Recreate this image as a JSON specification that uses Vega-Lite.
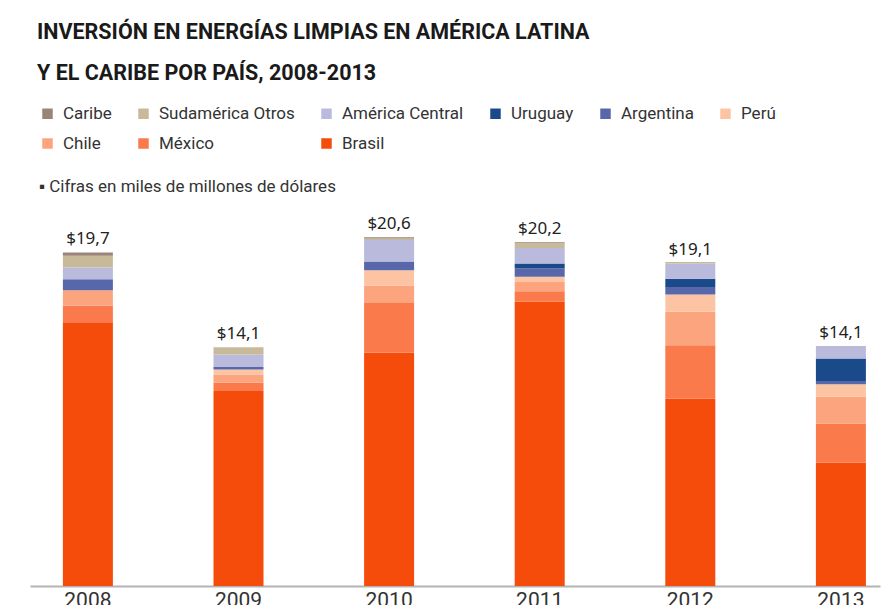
{
  "$schema": "https://vega.github.io/schema/vega-lite/v6.json",
  "autosize": {"type": "none"},
  "width": 850,
  "height": 381,
  "padding": {"left": 30, "top": 205, "right": 6, "bottom": 19},
  "background": "white",
  "title": {
    "text": ["INVERSIÓN EN ENERGÍAS LIMPIAS EN AMÉRICA LATINA", "Y EL CARIBE POR PAÍS, 2008-2013"],
    "anchor": "start",
    "frame": "group",
    "dx": 7,
    "font": "Roboto",
    "fontWeight": "bold",
    "fontSize": 21.5,
    "lineHeight": 41,
    "color": "#1a1a1a",
    "offset": 21
  },
  "config": {
    "view": {"stroke": null},
    "legend": {
      "orient": "none",
      "legendX": 9,
      "legendY": -100,
      "columns": 6,
      "direction": "horizontal",
      "symbolType": "square",
      "symbolSize": 110,
      "symbolStrokeWidth": 0,
      "labelFont": "Roboto",
      "labelFontSize": 17,
      "labelColor": "#333333",
      "labelOffset": 7,
      "columnPadding": 23,
      "rowPadding": 12,
      "titleOrient": "bottom",
      "titleFont": "Roboto",
      "titleFontSize": 17,
      "titleFontWeight": "normal",
      "titleColor": "#333333",
      "titlePadding": 27,
      "titleLimit": 600
    }
  },
  "layer": [
    {
      "data": {
        "values": [
          {"anio": "2008", "serie": "Brasil", "valor": 15.57, "orden": 1},
          {"anio": "2008", "serie": "México", "valor": 0.98, "orden": 2},
          {"anio": "2008", "serie": "Chile", "valor": 0.92, "orden": 3},
          {"anio": "2008", "serie": "Argentina", "valor": 0.65, "orden": 5},
          {"anio": "2008", "serie": "América Central", "valor": 0.69, "orden": 7},
          {"anio": "2008", "serie": "Sudamérica Otros", "valor": 0.69, "orden": 8},
          {"anio": "2008", "serie": "Caribe", "valor": 0.2, "orden": 9},
          {"anio": "2009", "serie": "Brasil", "valor": 11.51, "orden": 1},
          {"anio": "2009", "serie": "México", "valor": 0.49, "orden": 2},
          {"anio": "2009", "serie": "Chile", "valor": 0.49, "orden": 3},
          {"anio": "2009", "serie": "Perú", "valor": 0.3, "orden": 4},
          {"anio": "2009", "serie": "Argentina", "valor": 0.15, "orden": 5},
          {"anio": "2009", "serie": "América Central", "valor": 0.73, "orden": 7},
          {"anio": "2009", "serie": "Sudamérica Otros", "valor": 0.43, "orden": 8},
          {"anio": "2010", "serie": "Brasil", "valor": 13.78, "orden": 1},
          {"anio": "2010", "serie": "México", "valor": 2.93, "orden": 2},
          {"anio": "2010", "serie": "Chile", "valor": 1.03, "orden": 3},
          {"anio": "2010", "serie": "Perú", "valor": 0.91, "orden": 4},
          {"anio": "2010", "serie": "Argentina", "valor": 0.52, "orden": 5},
          {"anio": "2010", "serie": "América Central", "valor": 1.27, "orden": 7},
          {"anio": "2010", "serie": "Sudamérica Otros", "valor": 0.08, "orden": 8},
          {"anio": "2010", "serie": "Caribe", "valor": 0.08, "orden": 9},
          {"anio": "2011", "serie": "Brasil", "valor": 16.8, "orden": 1},
          {"anio": "2011", "serie": "México", "valor": 0.6, "orden": 2},
          {"anio": "2011", "serie": "Chile", "valor": 0.55, "orden": 3},
          {"anio": "2011", "serie": "Perú", "valor": 0.32, "orden": 4},
          {"anio": "2011", "serie": "Argentina", "valor": 0.5, "orden": 5},
          {"anio": "2011", "serie": "Uruguay", "valor": 0.27, "orden": 6},
          {"anio": "2011", "serie": "América Central", "valor": 0.92, "orden": 7},
          {"anio": "2011", "serie": "Sudamérica Otros", "valor": 0.29, "orden": 8},
          {"anio": "2011", "serie": "Caribe", "valor": 0.05, "orden": 9},
          {"anio": "2012", "serie": "Brasil", "valor": 11.07, "orden": 1},
          {"anio": "2012", "serie": "México", "valor": 3.15, "orden": 2},
          {"anio": "2012", "serie": "Chile", "valor": 1.97, "orden": 3},
          {"anio": "2012", "serie": "Perú", "valor": 1.02, "orden": 4},
          {"anio": "2012", "serie": "Argentina", "valor": 0.45, "orden": 5},
          {"anio": "2012", "serie": "Uruguay", "valor": 0.49, "orden": 6},
          {"anio": "2012", "serie": "América Central", "valor": 0.89, "orden": 7},
          {"anio": "2012", "serie": "Sudamérica Otros", "valor": 0.1, "orden": 8},
          {"anio": "2013", "serie": "Brasil", "valor": 7.3, "orden": 1},
          {"anio": "2013", "serie": "México", "valor": 2.3, "orden": 2},
          {"anio": "2013", "serie": "Chile", "valor": 1.57, "orden": 3},
          {"anio": "2013", "serie": "Perú", "valor": 0.75, "orden": 4},
          {"anio": "2013", "serie": "Argentina", "valor": 0.14, "orden": 5},
          {"anio": "2013", "serie": "Uruguay", "valor": 1.38, "orden": 6},
          {"anio": "2013", "serie": "América Central", "valor": 0.73, "orden": 7}
        ]
      },
      "mark": {"type": "bar"},
      "encoding": {
        "x": {
          "field": "anio",
          "type": "nominal",
          "scale": {"paddingInner": 0.668, "paddingOuter": 0.156, "align": 0.7},
          "axis": {
            "title": null,
            "labelAngle": 0,
            "ticks": false,
            "domainColor": "#b3b3b3",
            "domainWidth": 2,
            "labelFont": "Roboto",
            "labelFontSize": 21,
            "labelColor": "#333333",
            "labelPadding": 3
          }
        },
        "y": {
          "field": "valor",
          "type": "quantitative",
          "stack": "zero",
          "scale": {"domain": [0, 22.5], "nice": false},
          "axis": null
        },
        "color": {
          "field": "serie",
          "type": "nominal",
          "scale": {
            "domain": ["Caribe", "Sudamérica Otros", "América Central", "Uruguay", "Argentina", "Perú", "Chile", "México", "Brasil"],
            "range": ["#9a8478", "#c8b99a", "#babadd", "#1b4a8a", "#5866aa", "#fdc4a4", "#fca47e", "#fa7a4c", "#f54b0b"]
          },
          "legend": {"title": "▪ Cifras en miles de millones de dólares"}
        },
        "order": {"field": "orden", "type": "quantitative"}
      }
    },
    {
      "data": {
        "values": [
          {"anio": "2008", "total": 19.73, "etiqueta": "$19,7"},
          {"anio": "2009", "total": 14.1, "etiqueta": "$14,1"},
          {"anio": "2010", "total": 20.6, "etiqueta": "$20,6"},
          {"anio": "2011", "total": 20.3, "etiqueta": "$20,2"},
          {"anio": "2012", "total": 19.1, "etiqueta": "$19,1"},
          {"anio": "2013", "total": 14.17, "etiqueta": "$14,1"}
        ]
      },
      "mark": {"type": "text", "baseline": "bottom", "dy": -4, "font": "Noto Sans", "fontSize": 17, "color": "#222222"},
      "encoding": {
        "x": {"field": "anio", "type": "nominal"},
        "y": {"field": "total", "type": "quantitative"},
        "text": {"field": "etiqueta"}
      }
    }
  ]
}
